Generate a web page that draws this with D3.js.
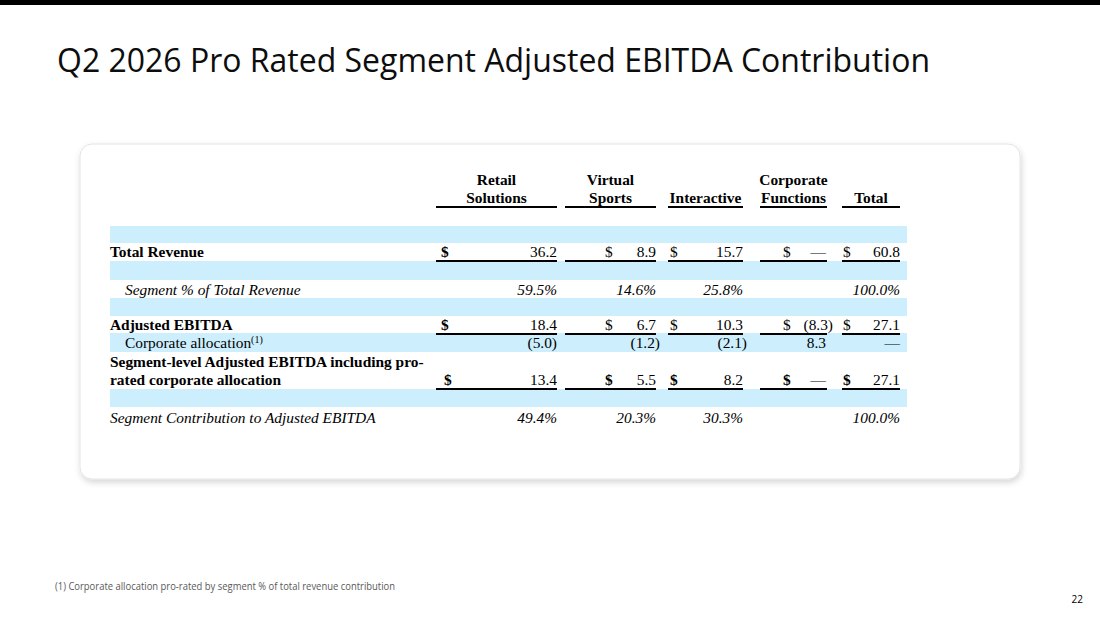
<!DOCTYPE html>
<html lang="en">
<head>
<meta charset="utf-8">
<title>Q2 2026 Pro Rated Segment Adjusted EBITDA Contribution</title>
<script src="https://cdn.jsdelivr.net/npm/d3@7"></script>
<style>
  body { margin: 0; background: #fff; }
  svg { display: block; }
</style>
</head>
<body>
<script>

// Table data
var segments = ["Retail Solutions", "Virtual Sports", "Interactive", "Corporate Functions", "Total"];
var headerLines = [["Retail", "Solutions"], ["Virtual", "Sports"], ["", "Interactive"], ["Corporate", "Functions"], ["", "Total"]];
var totalRevenue = [36.2, 8.9, 15.7, 0, 60.8];
var revenueShare = [59.5, 14.6, 25.8, null, 100.0];
var adjustedEbitda = [18.4, 6.7, 10.3, -8.3, 27.1];
var corporateAllocation = [-5.0, -1.2, -2.1, 8.3, 0];
var segmentEbitda = [13.4, 5.5, 8.2, 0, 27.1];
var ebitdaShare = [49.4, 20.3, 30.3, null, 100.0];

var title = "Q2 2026 Pro Rated Segment Adjusted EBITDA Contribution";
var footnote = "(1) Corporate allocation pro-rated by segment % of total revenue contribution";
var pageNumber = "22";

//Width and height
var w = 1100;
var h = 618;

var serif = "'Liberation Serif', 'Times New Roman', serif";
var sans = "'Open Sans', 'Noto Sans', sans-serif";
var blue = "#cdeefc";

// column geometry (underline start/end, dollar sign x, right edge, paren hang)
var colLayout = [
    { x0: 436, x1: 557, dollar: 441, right: 557, hang: 0 },
    { x0: 565, x1: 656, dollar: 605, right: 656, hang: 4 },
    { x0: 668, x1: 743, dollar: 670, right: 743, hang: 4 },
    { x0: 760, x1: 827, dollar: 783, right: 826, hang: 7 },
    { x0: 842, x1: 900, dollar: 843, right: 900, hang: 0 }
];
var col = d3.scaleOrdinal().domain(segments).range(colLayout);

var rows = [
    { key: "rev", label: ["Total Revenue"], values: totalRevenue, kind: "money", weight: "bold", style: "normal", indent: 0, dollars: [true, false, false, false, false] },
    { key: "revShare", label: ["Segment % of Total Revenue"], values: revenueShare, kind: "pct", weight: "normal", style: "italic", indent: 15 },
    { key: "ebitda", label: ["Adjusted EBITDA"], values: adjustedEbitda, kind: "money", weight: "bold", style: "normal", indent: 0, dollars: [true, false, false, false, false] },
    { key: "alloc", label: ["Corporate allocation"], sup: "(1)", values: corporateAllocation, kind: "num", weight: "normal", style: "normal", indent: 15 },
    { key: "seg", label: ["Segment-level Adjusted EBITDA including pro-", "rated corporate allocation"], values: segmentEbitda, kind: "money", weight: "bold", style: "normal", indent: 0, dollars: [true, true, true, true, true], dollarOffset: 3 },
    { key: "segShare", label: ["Segment Contribution to Adjusted EBITDA"], values: ebitdaShare, kind: "pct", weight: "normal", style: "italic", indent: 0 }
];

// vertical positions
var rowY = d3.scaleOrdinal()
    .domain(rows.map(function(r) { return r.key; }))
    .range([257, 295, 330, 348, 385, 423]);
var bands = [[226, 243], [261, 280], [298, 316], [333, 352], [389, 407]];

var f1 = d3.format(".1f");
function fmt(v, kind) {
    if (v === null) return "";
    if (kind === "pct") return f1(v) + "%";
    if (v === 0) return "\u2014";
    if (v < 0) return "(" + f1(-v) + ")";
    return f1(v);
}

var svg = d3.select("body")
    .append("svg")
    .attr("width", w)
    .attr("height", h);

var defs = svg.append("defs");
var shadow = defs.append("filter")
    .attr("id", "shadow")
    .attr("x", "-5%").attr("y", "-5%")
    .attr("width", "110%").attr("height", "115%");
shadow.append("feDropShadow")
    .attr("dx", 1).attr("dy", 3)
    .attr("stdDeviation", 3)
    .attr("flood-color", "#000")
    .attr("flood-opacity", 0.16);

// top rule
svg.append("rect")
    .attr("x", 0).attr("y", 0)
    .attr("width", w).attr("height", 5)
    .attr("fill", "#000");

// title
svg.append("text")
    .text(title)
    .attr("x", 57)
    .attr("y", 72)
    .attr("font-family", sans)
    .attr("font-size", "32px")
    .attr("fill", "#0d0d0d")
    .attr("textLength", 873)
    .attr("lengthAdjust", "spacingAndGlyphs");

// card
svg.append("rect")
    .attr("x", 80).attr("y", 144)
    .attr("width", 940).attr("height", 335)
    .attr("rx", 12).attr("ry", 12)
    .attr("fill", "#fff")
    .attr("stroke", "#e4e4e4")
    .attr("stroke-width", 1)
    .attr("filter", "url(#shadow)");

// blue bands
svg.selectAll("rect.band")
    .data(bands)
    .enter()
    .append("rect")
    .attr("class", "band")
    .attr("x", 110)
    .attr("y", function(d) { return d[0]; })
    .attr("width", 797)
    .attr("height", function(d) { return d[1] - d[0]; })
    .attr("fill", blue);

var table = svg.append("g")
    .attr("font-family", serif)
    .attr("fill", "#000");

// fit the serif size to the long bold label width
var probe = table.append("text")
    .attr("font-weight", "bold")
    .attr("font-size", "100px")
    .text(rows[4].label[0]);
var fs = 100 * 314 / probe.node().getComputedTextLength();
probe.remove();
fs = Math.round(fs * 10) / 10;
table.attr("font-size", fs + "px");

// column headers
var heads = table.selectAll("g.head")
    .data(segments)
    .enter()
    .append("g")
    .attr("class", "head");

heads.each(function(d, i) {
    var c = col(d);
    var g = d3.select(this);
    headerLines[i].forEach(function(line, j) {
        if (!line) return;
        g.append("text")
            .text(line)
            .attr("x", (c.x0 + c.x1) / 2)
            .attr("y", 185 + j * 18)
            .attr("text-anchor", "middle")
            .attr("font-weight", "bold");
    });
    g.append("line")
        .attr("x1", c.x0).attr("x2", c.x1)
        .attr("y1", 207).attr("y2", 207)
        .attr("stroke", "#000")
        .attr("stroke-width", 2);
});

// row labels
rows.forEach(function(r) {
    var y = rowY(r.key);
    var n = r.label.length;
    r.label.forEach(function(line, j) {
        var t = table.append("text")
            .attr("x", 110 + r.indent)
            .attr("y", y - (n - 1 - j) * 18)
            .attr("font-weight", r.weight)
            .attr("font-style", r.style)
            .text(line);
        if (r.sup && j === n - 1) {
            t.append("tspan")
                .attr("dy", -5)
                .attr("font-size", (fs * 0.65) + "px")
                .text(r.sup);
        }
    });

    // values
    segments.forEach(function(s, i) {
        var c = col(s);
        var v = r.values[i];
        var txt = fmt(v, r.kind);
        var hang = (r.kind !== "pct" && v < 0) ? c.hang : 0;
        table.append("text")
            .attr("x", c.right + hang)
            .attr("y", y)
            .attr("text-anchor", "end")
            .attr("font-style", r.kind === "pct" ? "italic" : "normal")
            .text(txt);

        if (r.kind === "money") {
            table.append("text")
                .attr("x", c.dollar + (r.dollarOffset && i === 0 ? r.dollarOffset : 0))
                .attr("y", y)
                .attr("font-weight", r.dollars[i] ? "bold" : "normal")
                .text("$");
            table.append("line")
                .attr("x1", c.x0).attr("x2", c.x1)
                .attr("y1", y + 4).attr("y2", y + 4)
                .attr("stroke", "#000")
                .attr("stroke-width", 2);
        }
    });
});

// footnote and page number
svg.append("text")
    .text(footnote)
    .attr("x", 55)
    .attr("y", 590)
    .attr("font-family", sans)
    .attr("font-size", "10px")
    .attr("fill", "#595959")
    .attr("textLength", 340)
    .attr("lengthAdjust", "spacingAndGlyphs");

svg.append("text")
    .text(pageNumber)
    .attr("x", 1083)
    .attr("y", 603)
    .attr("text-anchor", "end")
    .attr("font-family", sans)
    .attr("font-size", "10px")
    .attr("fill", "#000");

</script>
</body>
</html>
